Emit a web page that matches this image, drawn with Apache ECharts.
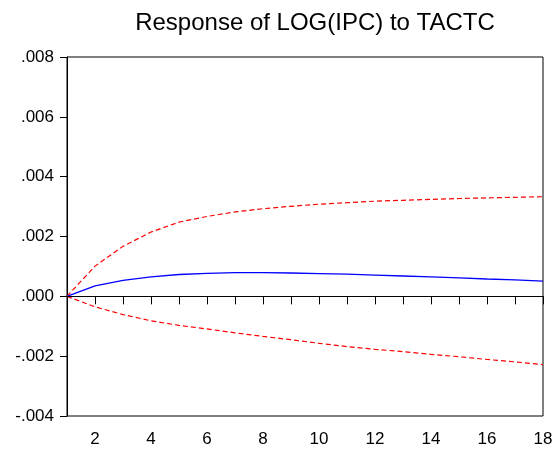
<!DOCTYPE html>
<html>
<head>
<meta charset="utf-8">
<script src="https://cdn.jsdelivr.net/npm/echarts@6/dist/echarts.min.js"></script>
<style>html,body{margin:0;padding:0;background:#fff;}#c{width:558px;height:450px;}</style>
</head>
<body>
<div id="c"></div>
<script>
const periods = [1,2,3,4,5,6,7,8,9,10,11,12,13,14,15,16,17,18];
const response = [0, 0.00035, 0.00053, 0.00065, 0.00073, 0.00077, 0.00079, 0.00079, 0.00078, 0.00076, 0.00074, 0.00071, 0.00068, 0.00065, 0.00062, 0.00058, 0.00055, 0.00051];
const upperBand = [0, 0.00101, 0.00167, 0.00215, 0.00248, 0.00267, 0.00282, 0.00293, 0.00301, 0.00308, 0.00313, 0.00318, 0.00321, 0.00324, 0.00327, 0.00329, 0.00331, 0.00333];
const lowerBand = [0, -0.00035, -0.00061, -0.00082, -0.00097, -0.00109, -0.00122, -0.00134, -0.00145, -0.00157, -0.00168, -0.00177, -0.00185, -0.00194, -0.00202, -0.00211, -0.00219, -0.00228];
const title = 'Response of LOG(IPC) to TACTC';

const toPairs = arr => periods.map((p, i) => [p, arr[i]]);
const chart = echarts.init(document.getElementById('c'), null, {renderer: 'canvas'});
const font = 'Liberation Sans, Arial, sans-serif';
chart.setOption({
  animation: false,
  backgroundColor: '#fff',
  title: {
    text: title, left: 310, top: 6, textAlign: 'center',
    textStyle: {fontFamily: font, fontSize: 24, fontWeight: 'normal', color: '#000'}
  },
  grid: {left: 67, right: 15, top: 57, bottom: 34, show: true, borderColor: '#000', borderWidth: 1},
  xAxis: {
    type: 'value', min: 1, max: 18, interval: 1,
    axisLine: {lineStyle: {color: '#000', width: 1}},
    axisTick: {show: true, length: 8, lineStyle: {color: '#000'}},
    splitLine: {show: false},
    axisLabel: {
      fontFamily: font, fontSize: 17, color: '#000', margin: 15,
      formatter: v => (v % 2 === 0 ? String(v) : '')
    }
  },
  yAxis: {
    type: 'value', min: -0.004, max: 0.008, interval: 0.002,
    axisLine: {show: true, lineStyle: {color: '#000', width: 1}},
    axisTick: {show: true, length: 7, lineStyle: {color: '#000'}},
    splitLine: {show: false},
    axisLabel: {
      fontFamily: font, fontSize: 17, color: '#000', margin: 13,
      formatter: v => v.toFixed(3).replace('0.', '.')
    }
  },
  series: [
    {
      type: 'line', data: toPairs(upperBand), symbol: 'none', silent: true,
      lineStyle: {color: '#ff0000', width: 1.2, type: [5, 3]}
    },
    {
      type: 'line', data: toPairs(lowerBand), symbol: 'none', silent: true,
      lineStyle: {color: '#ff0000', width: 1.2, type: [5, 3]}
    },
    {
      type: 'line', data: toPairs(response), symbol: 'none', silent: true,
      lineStyle: {color: '#0000ff', width: 1.3},
      markLine: {
        silent: true, symbol: 'none', label: {show: false},
        lineStyle: {color: '#000', width: 1, type: 'solid'},
        data: [{yAxis: 0}]
      },
      z: 3
    }
  ]
});
</script>
</body>
</html>
